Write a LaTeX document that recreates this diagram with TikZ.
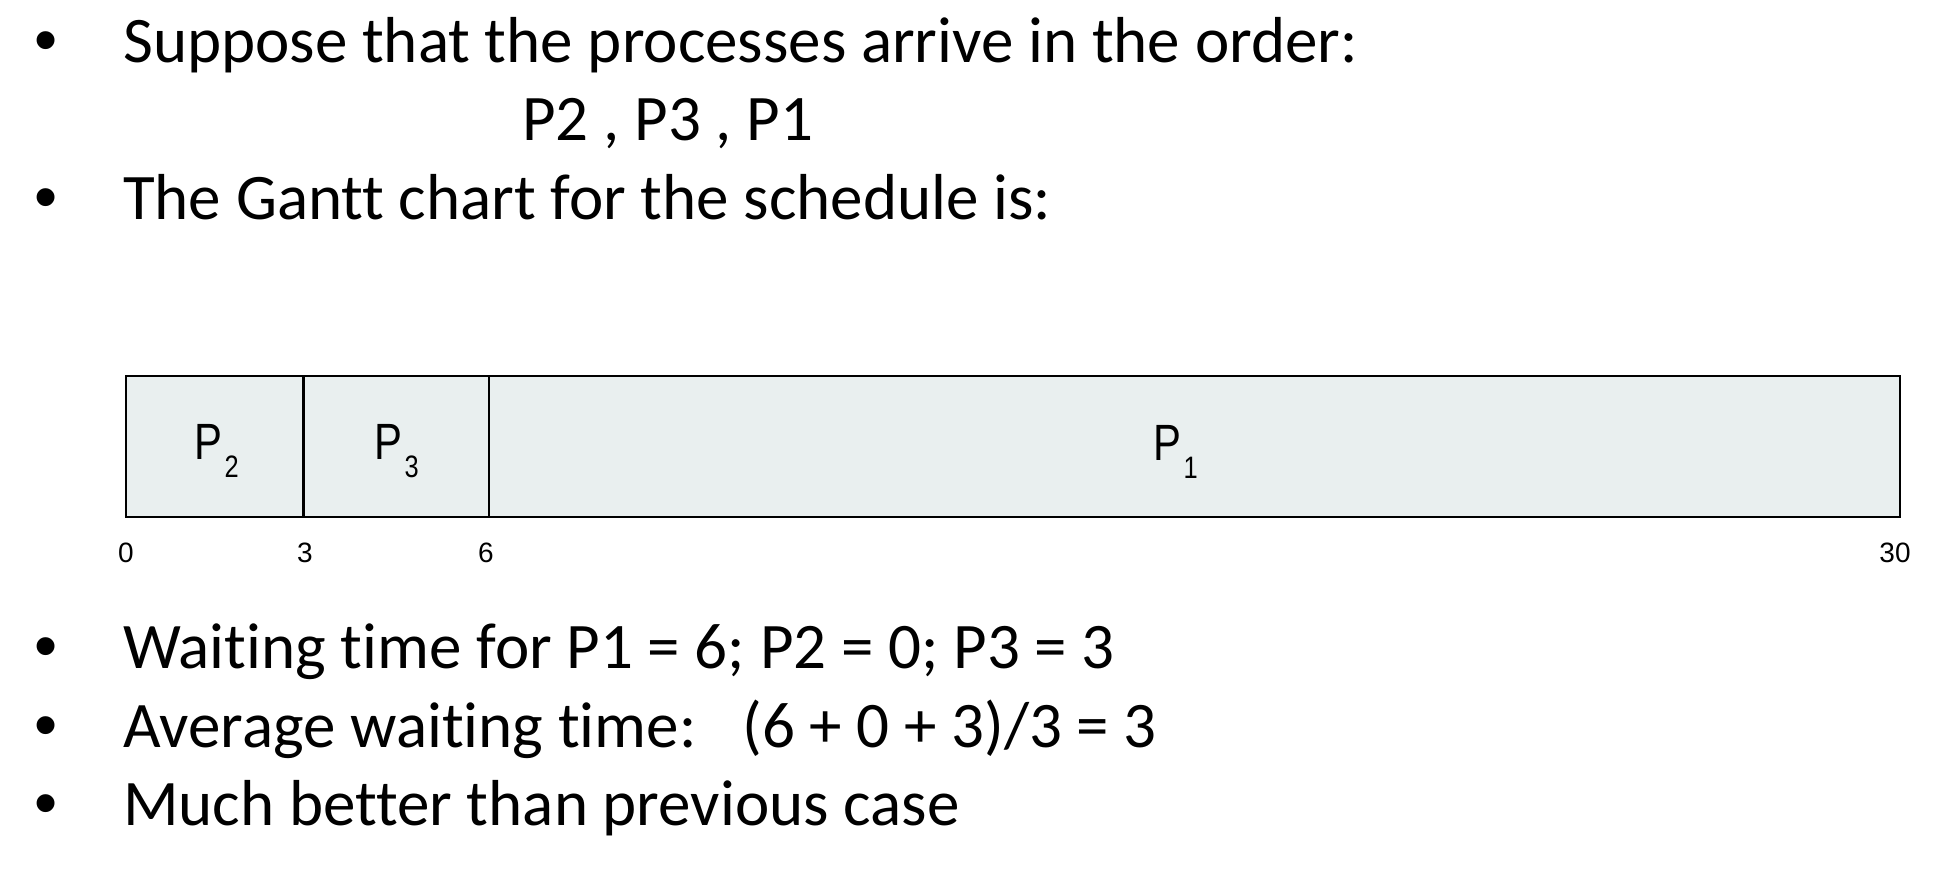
\documentclass[tikz,border=0pt]{standalone}
\usepackage{fontspec}
\setmainfont{Carlito}[Ligatures=NoCommon]
\newfontfamily\bulletfont{Liberation Sans}
\newfontfamily\ganttfont{Liberation Sans}
\usepackage{graphicx}
\definecolor{cellfill}{RGB}{233,239,239}
\tikzset{
  line/.style={anchor=base west, inner sep=0pt, font=\fontsize{65}{78}\selectfont},
  bul/.style={anchor=base, inner sep=0pt, font=\bulletfont\fontsize{66}{79}\selectfont},
  cell/.style={draw=black, line width=2.6pt, fill=cellfill, inner sep=0pt, minimum height=141pt},
  plabel/.style={anchor=base west, inner sep=0pt, font=\ganttfont\fontsize{51}{51}\selectfont},
  tick/.style={anchor=base, inner sep=0pt, font=\ganttfont\fontsize{28}{28}\selectfont}
}
\newcommand{\procname}[1]{\scalebox{0.82}[1]{P\kern3pt\raisebox{-18pt}{\fontsize{31}{31}\selectfont #1}}}
\begin{document}
\begin{tikzpicture}[x=1pt,y=-1pt]
\useasboundingbox[fill=white] (0,0) rectangle (1954,874);
% bullets
\node[bul] (b1) at (46,63) {•};
\node[bul] (b2) at (46,220) {•};
\node[bul] (b3) at (46,668) {•};
\node[bul] (b4) at (46,747) {•};
\node[bul] (b5) at (46,825) {•};
% text lines
\node[line] (t1) at (123,63) {Suppose that the processes arrive in the order:};
\node[line] (t2) at (522,141) {P2 , P3 , P1};
\node[line] (t3) at (123,220) {The Gantt chart for the schedule is:};
\node[line] (t4) at (123,668) {Waiting time for P1 = 6; P2 = 0; P3 = 3};
\node[line] (t5) at (123,747) {\makebox[619pt][l]{Average waiting time:}(6 + 0 + 3)/3 = 3};
\node[line] (t6) at (123,825) {Much better than previous case};
% Gantt chart cells
\node[cell, minimum width=177.5pt] (c2) at (214.75,446.5) {};
\node[cell, minimum width=185.5pt] (c3) at (396.25,446.5) {};
\node[cell, minimum width=1411pt] (c1) at (1194.5,446.5) {};
\node[plabel] (p2) at (194,459) {\procname{2}};
\node[plabel] (p3) at (374,459) {\procname{3}};
\node[plabel] (p1) at (1153,460) {\procname{1}};
% time ticks
\node[tick] (k0) at (126,562) {0};
\node[tick] (k3) at (305,562) {3};
\node[tick] (k6) at (486,562) {6};
\node[tick] (k30) at (1895,562) {30};
\end{tikzpicture}
\end{document}
